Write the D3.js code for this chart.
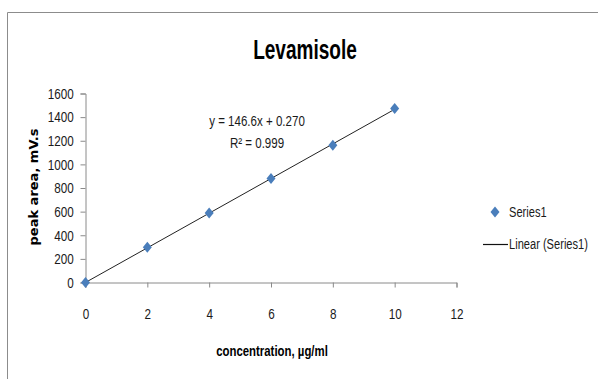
<!DOCTYPE html>
<html>
<head>
<meta charset="utf-8">
<script src="https://cdn.jsdelivr.net/npm/d3@7"></script>
<style>
  body { margin: 0; background: #fff; }
  #graph { width: 598px; height: 379px; }
  .narrow { font-family: "Liberation Sans", Arial, sans-serif; }
</style>
</head>
<body>
<div id="graph"></div>
<script>
var concentration = [0, 2, 4, 6, 8, 10]
var peakArea = [0, 298, 588, 880, 1162, 1473]
var xTicks = [0, 2, 4, 6, 8, 10, 12]
var yTicks = [0, 200, 400, 600, 800, 1000, 1200, 1400, 1600]
var fitSlope = 146.6
var fitIntercept = 0.270
var fitLabels = ["y = 146.6x + 0.270", "R² = 0.999"]
var legendLabels = ["Series1", "Linear (Series1)"]

var width = 598,
  height = 379

var svg = d3.select("#graph")
  .append("svg")
  .attr("width", width)
  .attr("height", height)

// the original font is a condensed one, so squeeze text horizontally around its anchor
function narrowText(parent, px, py, size, squeeze) {
  return parent.append("g")
    .attr("transform", "translate(" + px + "," + py + ") scale(" + squeeze + ",1)")
    .append("text")
    .attr("class", "narrow")
    .attr("font-size", size)
    .attr("fill", "#1a1a1a")
}

// chart area border (runs off the right / bottom edge like the original crop)
svg.append("path")
  .attr("d", "M 7.5," + height + " L 7.5,12.5 L " + width + ",12.5")
  .attr("fill", "none")
  .attr("stroke", "#8c8c8c")
  .attr("stroke-width", 1)

var x = d3.scaleLinear().domain([0, 12]).range([85.5, 456.5])
var y = d3.scaleLinear().domain([0, 1600]).range([282.5, 93.5])

var axisColor = "#8a8a8a"

// y axis
var yAxis = svg.append("g")
  .attr("transform", "translate(" + x(0) + ",0)")
  .call(d3.axisLeft(y).tickValues(yTicks).tickSize(5).tickPadding(10).tickFormat(d3.format("d")))
yAxis.select(".domain").attr("stroke", axisColor)
yAxis.selectAll(".tick line").attr("stroke", axisColor)
yAxis.selectAll("text")
  .attr("class", "narrow")
  .attr("font-size", 15)
  .attr("fill", "#1a1a1a")
  .attr("transform", "scale(0.78,1)")

// x axis
var xAxis = svg.append("g")
  .attr("transform", "translate(0," + y(0) + ")")
  .call(d3.axisBottom(x).tickValues(xTicks).tickSize(5).tickPadding(21).tickFormat(d3.format("d")))
xAxis.select(".domain").attr("stroke", axisColor)
xAxis.selectAll(".tick line").attr("stroke", axisColor)
xAxis.selectAll("text")
  .attr("class", "narrow")
  .attr("font-size", 15)
  .attr("fill", "#1a1a1a")
  .attr("transform", "scale(0.78,1)")

// trend line
svg.append("line")
  .attr("x1", x(0))
  .attr("y1", y(fitIntercept))
  .attr("x2", x(10))
  .attr("y2", y(fitSlope * 10 + fitIntercept))
  .attr("stroke", "#222")
  .attr("stroke-width", 1)

var diamond = "M 0,-5.5 L 4.5,0 L 0,5.5 L -4.5,0 Z"

svg.selectAll(".pt")
  .data(concentration)
  .enter()
  .append("path")
  .attr("class", "pt")
  .attr("d", diamond)
  .attr("fill", "#4a7ebb")
  .attr("transform", function(d, i) {
    return "translate(" + x(d) + "," + y(peakArea[i]) + ")"
  })

// title
narrowText(svg, 305, 58.5, 28, 0.68)
  .attr("text-anchor", "middle")
  .attr("font-weight", "bold")
  .attr("fill", "#000")
  .text("Levamisole")

// equation
fitLabels.forEach(function(d, i) {
  narrowText(svg, 257, 126 + i * 22, 15, 0.77)
    .attr("text-anchor", "middle")
    .text(d)
})

// axis titles
narrowText(svg, 272, 356, 15, 0.76)
  .attr("text-anchor", "middle")
  .attr("font-weight", "bold")
  .attr("fill", "#000")
  .text("concentration, µg/ml")

svg.append("text")
  .attr("transform", "translate(38,187) rotate(-90)")
  .attr("text-anchor", "middle")
  .attr("font-family", "DejaVu Sans")
  .attr("font-size", 13)
  .attr("font-weight", "bold")
  .attr("fill", "#000")
  .text("peak area, mV.s")

// legend
var legend = svg.append("g")
legend.append("path")
  .attr("d", diamond)
  .attr("fill", "#4a7ebb")
  .attr("transform", "translate(495,212)")
legend.append("line")
  .attr("x1", 483)
  .attr("x2", 508)
  .attr("y1", 244.5)
  .attr("y2", 244.5)
  .attr("stroke", "#111")
  .attr("stroke-width", 1.2)
legendLabels.forEach(function(d, i) {
  narrowText(legend, 509, 217 + i * 32, 15, 0.74).text(d)
})
</script>
</body>
</html>
